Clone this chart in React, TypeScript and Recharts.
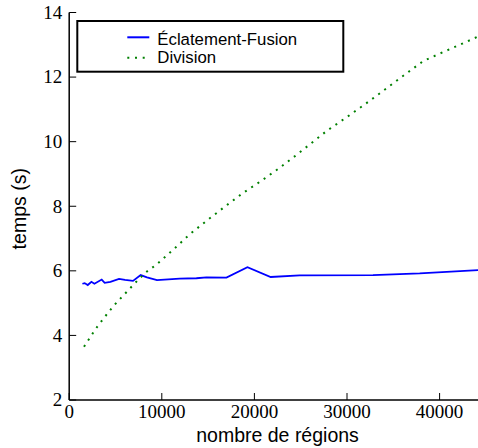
import { LineChart, Line, XAxis, YAxis, Legend } from "recharts"

// nombre de régions / temps (s)
const fusionRegions = [1425, 1670, 2000, 2400, 2720, 3510, 3830, 4450, 5380, 6030, 6890, 7720, 8400, 9480, 11930, 13740, 14820, 16980, 19250, 21760, 24890, 32810, 37850, 44500]
const fusionTimes = [5.6, 5.62, 5.56, 5.66, 5.6, 5.73, 5.63, 5.66, 5.75, 5.72, 5.69, 5.87, 5.8, 5.71, 5.76, 5.77, 5.8, 5.79, 6.11, 5.81, 5.86, 5.87, 5.92, 6.03]

const divisionRegions = [1600, 2460, 2900, 3830, 4840, 5920, 7070, 8260, 9450, 11290, 13010, 14920, 16820, 18770, 20760, 22730, 24640, 27840, 29830, 31800, 33750, 35690, 38250, 39720, 41230, 42710, 44500]
const divisionTimes = [3.65, 4.03, 4.22, 4.57, 4.93, 5.26, 5.61, 5.95, 6.2, 6.67, 7.13, 7.57, 7.99, 8.41, 8.79, 9.19, 9.61, 10.34, 10.73, 11.13, 11.54, 11.96, 12.5, 12.69, 12.88, 13.07, 13.3]

const seriesNames = ["Éclatement-Fusion", "Division"]
const xTicks = [0, 10000, 20000, 30000, 40000]
const yTicks = [2, 4, 6, 8, 10, 12, 14]

const fusionData = fusionRegions.map((x, i) => ({ x, y: fusionTimes[i] }))
const divisionData = divisionRegions.map((x, i) => ({ x, y: divisionTimes[i] }))

const W = 500
const H = 448
const M = { top: 12.5, right: 14.1, bottom: 0, left: 0 }
const Y_AXIS_W = 69.2
const X_AXIS_H = 48
const plotTop = M.top
const plotH = H - M.top - M.bottom - X_AXIS_H
const plotLeft = M.left + Y_AXIS_W
const plotW = W - plotLeft - M.right

const tickFont = "Liberation Serif"
const labelFont = "Liberation Sans"

const BottomTick = ({ x, y, payload }: any) => (
  <g>
    <line x1={x} x2={x} y1={y} y2={y - 7} stroke="#000" strokeWidth={1} />
    <text x={x} y={y + 18.3} textAnchor="middle" fill="#000" fontFamily={tickFont} fontSize={19}>
      {payload.value}
    </text>
  </g>
)

const TopTick = ({ x, y }: any) => (
  <line x1={x} x2={x} y1={y} y2={y + 7} stroke="#000" strokeWidth={1} />
)

const LeftTick = ({ x, y, payload }: any) => (
  <g>
    <line x1={x} x2={x + 7} y1={y} y2={y} stroke="#000" strokeWidth={1} />
    <text x={x - 7} y={y + 6.3} textAnchor="end" fill="#000" fontFamily={tickFont} fontSize={19}>
      {payload.value}
    </text>
  </g>
)

const XLabel = () => (
  <text x={plotLeft + plotW / 2} y={H - 6.3} textAnchor="middle" fill="#000" fontFamily={labelFont} fontSize={19.5}>
    nombre de régions
  </text>
)

const YLabel = () => {
  const cx = 26
  const cy = plotTop + plotH / 2 + 2.5
  return (
    <text
      x={cx}
      y={cy}
      transform={`rotate(-90, ${cx}, ${cy})`}
      textAnchor="middle"
      fill="#000"
      fontFamily={labelFont}
      fontSize={19.5}
    >
      temps (s)
    </text>
  )
}

const legendRows = [
  { line: 17.3, text: 25 },
  { line: 37.7, text: 43.3 },
]

const LegendBox = ({ payload }: any) => {
  const entries = [...(payload || [])].sort(
    (a: any, b: any) => seriesNames.indexOf(a.value) - seriesNames.indexOf(b.value)
  )
  return (
    <svg width={270} height={54} style={{ display: "block" }}>
      <rect x={1.3} y={1} width={266} height={50.7} fill="#fff" stroke="#000" strokeWidth={2} />
      {entries.map((entry: any, i: number) => {
        const row = legendRows[i]
        return (
          <g key={entry.value}>
            <line
              x1={51.3}
              x2={73.3}
              y1={row.line}
              y2={row.line}
              stroke={entry.color}
              strokeWidth={2}
              strokeDasharray={entry.value === "Division" ? "2 5.7" : undefined}
            />
            <text x={81.3} y={row.text} fill="#000" fontFamily={labelFont} fontSize={16.8}>
              {entry.value}
            </text>
          </g>
        )
      })}
    </svg>
  )
}

export default function App() {
  return (
    <div style={{ position: "absolute", left: 0, top: 0, width: 478, height: H, overflow: "hidden", background: "#fff" }}>
      <LineChart width={W} height={H} margin={M}>
        <XAxis
          dataKey="x"
          type="number"
          domain={[0, 45000]}
          ticks={xTicks}
          allowDataOverflow
          height={X_AXIS_H}
          axisLine={{ stroke: "#000", strokeWidth: 1.5 }}
          tickLine={false}
          tickSize={0}
          tickMargin={0}
          tick={<BottomTick />}
          label={<XLabel />}
        />
        <XAxis
          xAxisId="top"
          orientation="top"
          dataKey="x"
          type="number"
          domain={[0, 45000]}
          ticks={xTicks}
          height={0}
          axisLine={{ stroke: "#000", strokeWidth: 1.5 }}
          tickLine={false}
          tickSize={0}
          tickMargin={0}
          tick={<TopTick />}
        />
        <YAxis
          dataKey="y"
          type="number"
          domain={[2, 14]}
          ticks={yTicks}
          width={Y_AXIS_W}
          axisLine={{ stroke: "#000", strokeWidth: 1.5 }}
          tickLine={false}
          tickSize={0}
          tickMargin={0}
          tick={<LeftTick />}
          label={<YLabel />}
        />
        <Legend
          layout="horizontal"
          verticalAlign="middle"
          align="center"
          content={<LegendBox />}
          wrapperStyle={{ left: 76, top: 20, width: 270, height: 54 }}
        />
        <Line
          data={fusionData}
          dataKey="y"
          name={seriesNames[0]}
          type="linear"
          stroke="#0000ff"
          strokeWidth={1.8}
          dot={false}
          activeDot={false}
          isAnimationActive={false}
        />
        <Line
          data={divisionData}
          dataKey="y"
          name={seriesNames[1]}
          type="linear"
          stroke="#008000"
          strokeWidth={2}
          strokeDasharray="2 5.5"
          dot={false}
          activeDot={false}
          isAnimationActive={false}
        />
      </LineChart>
    </div>
  )
}
